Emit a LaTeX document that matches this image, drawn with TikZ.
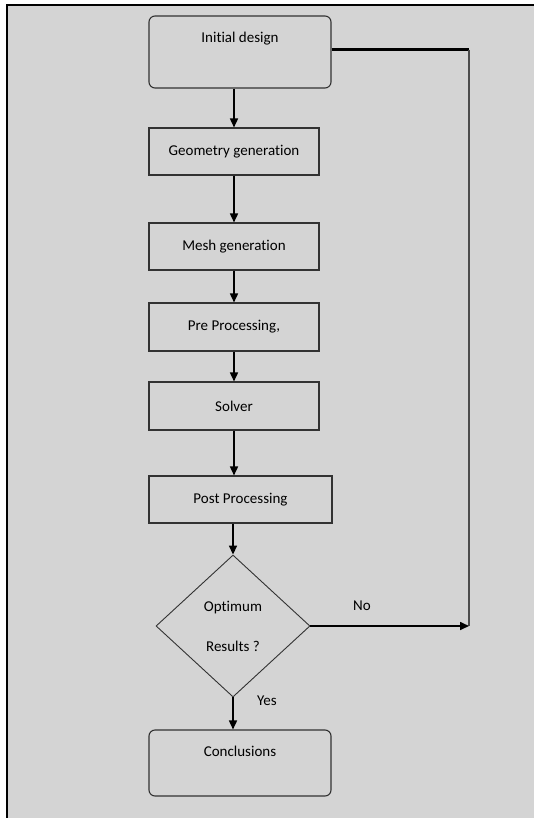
\documentclass[tikz,border=0pt]{standalone}
\usepackage{fontspec}
\setmainfont{Carlito}[Ligatures={NoCommon}]
\usetikzlibrary{arrows.meta,shapes.geometric}
\definecolor{bggray}{RGB}{212,212,212}
\definecolor{edgegray}{RGB}{50,50,50}
\begin{document}
\begin{tikzpicture}[x=1pt,y=-1pt,
  txt/.style={font=\fontsize{15}{18}\selectfont},
  stepbox/.style={txt, draw=edgegray, line width=1.1pt, minimum width=170pt, minimum height=47pt, inner sep=0pt},
  endbox/.style={stepbox, rounded corners=6pt, minimum width=182pt, text height=10pt},
  decision/.style={txt, draw=edgegray, line width=0.9pt, diamond, minimum width=154pt, minimum height=142pt, inner sep=0pt, align=center},
  flow/.style={line width=1.6pt, -{Triangle[width=8pt,length=9pt]}},
  lbl/.style={txt}]
\useasboundingbox (0,0) rectangle (534,818);
\fill[bggray] (7,5) rectangle (534,818);
\draw[line width=2.5pt] (7,818) -- (7,5) -- (534,5);

\node[endbox, text depth=28pt, minimum height=72pt] (init) at (240,52) {Initial design};
\node[stepbox] (geo) at (234,151.5) {Geometry generation};
\node[stepbox] (mesh) at (234,246.5) {Mesh generation};
\node[stepbox, minimum height=48pt] (pre) at (234,327) {Pre Processing,};
\node[stepbox, minimum height=48pt] (solver) at (234,406) {Solver};
\node[stepbox, minimum width=183pt] (post) at (240.5,499.5) {Post Processing};
\node[decision] (dia) at (233,626) {Optimum\\[22pt]Results ?};
\node[endbox, text depth=24pt, minimum height=66pt] (concl) at (240,763) {Conclusions};

\coordinate (c1) at (469,50);
\coordinate (c2) at (469,626);

\draw[flow] (init.south -| geo.north) -- (geo.north);
\draw[flow] (geo) -- (mesh);
\draw[flow] (mesh) -- (pre);
\draw[flow] (pre) -- (solver);
\draw[flow] (solver.south) -- (solver.south |- post.north);
\draw[flow] (post.south -| dia.north) -- (dia.north);
\draw[flow] (dia.south) -- (dia.south |- concl.north);
\draw[line width=3pt] (init.east |- c1) -- (c1);
\draw[line width=1.5pt, draw=black!70] (c1) -- (c2);
\draw[flow] (dia.east) -- (c2);

\node[lbl] (no) at (362,606) {No};
\node[lbl] (yes) at (267,701) {Yes};
\end{tikzpicture}
\end{document}
